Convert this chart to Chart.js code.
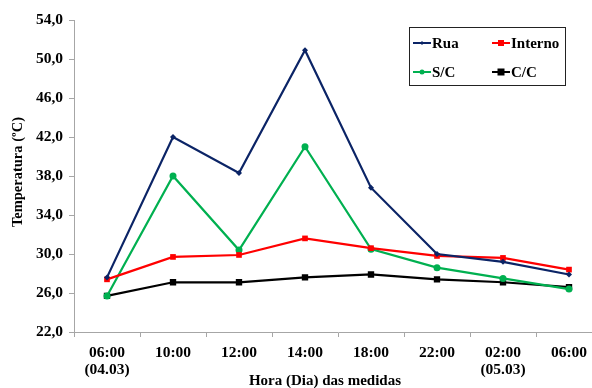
<!DOCTYPE html>
<html>
<head>
<meta charset="utf-8">
<script src="https://cdn.jsdelivr.net/npm/chart.js@4/dist/chart.umd.min.js"></script>
<style>
  html, body { margin: 0; padding: 0; background: #fff; overflow: hidden; }
  #wrap { width: 592px; height: 388px; overflow: hidden; }
  canvas { display: block; }
</style>
</head>
<body>
<div id="wrap"><canvas id="c" width="620" height="388"></canvas></div>
<script>
// Measurement times (day in parentheses)
const categories = [
  ['06:00', '(04.03)'], '10:00', '12:00', '14:00', '18:00', '22:00', ['02:00', '(05.03)'], '06:00'
];
// Temperatures in °C
const rua     = [27.6, 42.0, 38.3, 50.9, 36.8, 30.0, 29.2, 27.9];
const interno = [27.4, 29.7, 29.9, 31.6, 30.6, 29.8, 29.6, 28.4];
const semCob  = [25.7, 38.0, 30.4, 41.0, 30.5, 28.6, 27.5, 26.4];
const comCob  = [25.7, 27.1, 27.1, 27.6, 27.9, 27.4, 27.1, 26.6];
// Y axis range and step
const yMin = 22, yMax = 54, yStep = 4;

const FONT = '"Liberation Serif", "Times New Roman", serif';

// Framed legend in the upper right, two columns
const legendBox = {
  id: 'legendBox',
  afterDraw(chart) {
    const ctx = chart.ctx;
    const x0 = 409.5, y0 = 27.5, w = 156, h = 58;
    ctx.save();
    ctx.fillStyle = '#fff';
    ctx.fillRect(x0, y0, w, h);
    ctx.strokeStyle = '#222';
    ctx.lineWidth = 1;
    ctx.strokeRect(x0, y0, w, h);
    const slots = [[413, 43], [492, 43], [413, 72], [492, 72]];
    chart.data.datasets.forEach((ds, i) => {
      const [sx, sy] = slots[i];
      ctx.strokeStyle = ds.borderColor;
      ctx.lineWidth = 2;
      ctx.beginPath();
      ctx.moveTo(sx, sy);
      ctx.lineTo(sx + 18, sy);
      ctx.stroke();
      const r = Math.max(ds.pointRadius - 1, 2);
      ctx.fillStyle = ds.pointBackgroundColor;
      if (ds.pointStyle === 'circle') {
        ctx.beginPath(); ctx.arc(sx + 9, sy, r, 0, Math.PI * 2); ctx.fill();
      } else if (ds.pointStyle === 'rectRot') {
        ctx.beginPath();
        ctx.moveTo(sx + 9, sy - r); ctx.lineTo(sx + 9 + r, sy);
        ctx.lineTo(sx + 9, sy + r); ctx.lineTo(sx + 9 - r, sy);
        ctx.closePath(); ctx.fill();
      } else {
        ctx.fillRect(sx + 9 - r, sy - r, 2 * r, 2 * r);
      }
      ctx.fillStyle = '#000';
      ctx.font = 'bold 15px ' + FONT;
      ctx.textBaseline = 'middle';
      ctx.textAlign = 'left';
      ctx.fillText(ds.label, sx + 19, sy + 1);
    });
    ctx.restore();
  }
};

// Axis titles
const axisTitles = {
  id: 'axisTitles',
  afterDraw(chart) {
    const ctx = chart.ctx;
    ctx.save();
    ctx.fillStyle = '#000';
    ctx.textAlign = 'center';
    ctx.textBaseline = 'middle';
    ctx.font = 'bold 15px ' + FONT;
    ctx.fillText('Hora (Dia) das medidas', 325, 381);
    ctx.font = 'bold 14.5px ' + FONT;
    ctx.translate(18, 172);
    ctx.rotate(-Math.PI / 2);
    ctx.fillText('Temperatura (ºC)', 0, 0);
    ctx.restore();
  }
};

function series(label, data, color, style, radius) {
  return {
    label, data,
    borderColor: color,
    backgroundColor: color,
    pointBackgroundColor: color,
    pointBorderColor: color,
    pointStyle: style,
    pointRadius: radius,
    pointBorderWidth: 0,
    borderWidth: 2.2,
    tension: 0
  };
}

new Chart(document.getElementById('c'), {
  type: 'line',
  data: {
    labels: categories,
    datasets: [
      series('Rua', rua, '#0B2466', 'rectRot', 3),
      series('Interno', interno, '#FF0000', 'rect', 4),
      series('S/C', semCob, '#00B050', 'circle', 3.5),
      series('C/C', comCob, '#000000', 'rect', 4.5)
    ]
  },
  options: {
    responsive: false,
    animation: false,
    devicePixelRatio: 1,
    layout: { padding: { left: 0, top: 20, right: 18, bottom: 0 } },
    plugins: { legend: { display: false }, tooltip: { enabled: false } },
    scales: {
      x: {
        offset: true,
        afterFit(scale) { scale.height = 56; },
        grid: { offset: true, drawOnChartArea: false, drawTicks: true, tickLength: 5, color: '#A6A6A6' },
        border: { color: '#A6A6A6', width: 1 },
        ticks: {
          color: '#000', padding: 7, maxRotation: 0, autoSkip: false,
          font: { family: FONT, size: 15.5, weight: 'bold', lineHeight: 1.1 }
        }
      },
      y: {
        min: yMin, max: yMax,
        afterFit(scale) { scale.width = 74; },
        grid: { drawOnChartArea: false, drawTicks: true, tickLength: 5, color: '#A6A6A6' },
        border: { color: '#A6A6A6', width: 1 },
        ticks: {
          stepSize: yStep, color: '#000', padding: 6,
          font: { family: FONT, size: 15.5, weight: 'bold' },
          callback: v => v.toFixed(1).replace('.', ',')
        }
      }
    }
  },
  plugins: [legendBox, axisTitles]
});
</script>
</body>
</html>
